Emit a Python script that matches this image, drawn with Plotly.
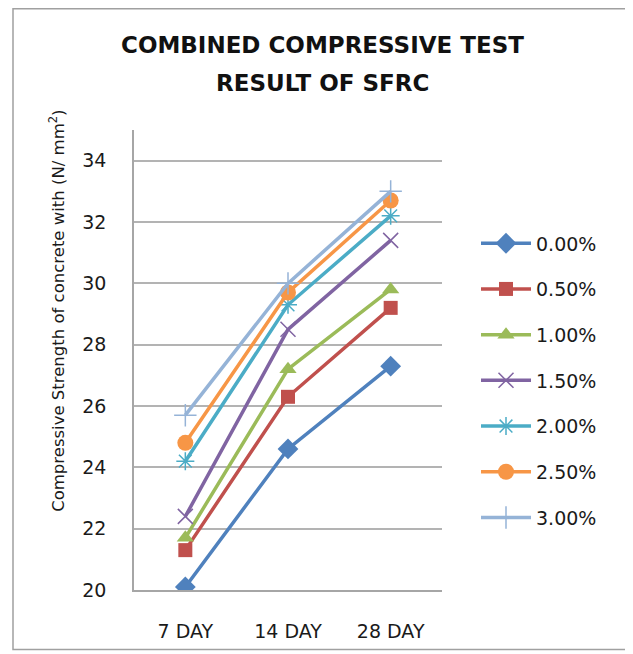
import plotly.graph_objects as go

categories = ["7 DAY", "14 DAY", "28 DAY"]
series_names = ["0.00%", "0.50%", "1.00%", "1.50%", "2.00%", "2.50%", "3.00%"]
s000 = [20.1, 24.6, 27.3]
s050 = [21.3, 26.3, 29.2]
s100 = [21.7, 27.2, 29.8]
s150 = [22.4, 28.5, 31.4]
s200 = [24.2, 29.3, 32.2]
s250 = [24.8, 29.7, 32.7]
s300 = [25.7, 30.0, 33.0]
y_ticks = [20, 22, 24, 26, 28, 30, 32, 34]

values = [s000, s050, s100, s150, s200, s250, s300]
colors = ["#4F81BD", "#C0504D", "#9BBB59", "#8064A2", "#4BACC6", "#F79646", "#95B3D7"]
symbols = ["diamond", "square", "triangle-up", "x-thin", "asterisk", "circle", "cross-thin"]
msizes = [16, 14, 15, 15, 15, 16, 16]

FONT = "DejaVu Sans"
OFF = 8  # page body margin

fig = go.Figure()
for i, (name, vals) in enumerate(zip(series_names, values)):
    thin = symbols[i] in ("x-thin", "asterisk", "cross-thin")
    fig.add_trace(go.Scatter(
        x=categories, y=vals, name=name, mode="lines+markers",
        legendgroup=name,
        line=dict(color=colors[i], width=3.5),
        marker=dict(symbol=symbols[i], size=msizes[i], color=colors[i],
                    line=dict(color=colors[i], width=1.5 if thin else 0)),
    ))

# reference pixel coordinates of the plot area
L, R, T, B = 134 - OFF, 442 - OFF, 130 - OFF, 593 - OFF
W, H = 633 - OFF, 654 - OFF
def px(x):
    return (x - OFF - L) / (R - L)
def py(y):
    return (B - (y - OFF)) / (B - T)

fig.update_layout(
    width=W, height=H,
    margin=dict(l=L, r=W - R, t=T, b=H - B),
    paper_bgcolor="white", plot_bgcolor="white",
    font=dict(family=FONT, color="#1a1a1a"),
    showlegend=True,
    legend=dict(x=px(476), y=py(225), xanchor="left", yanchor="top",
                font=dict(size=19, family=FONT), tracegroupgap=18,
                itemwidth=50, bgcolor="rgba(0,0,0,0)"),
    xaxis=dict(type="category", range=[-0.5, 2.5], showgrid=False,
               showline=True, linecolor="#A6A6A6", linewidth=1.5,
               ticks="", ticklabelstandoff=23, tickfont=dict(size=19, family=FONT),
               fixedrange=True),
    yaxis=dict(range=[20, 35], tickvals=y_ticks, showgrid=True,
               gridcolor="#B3B3B3", gridwidth=1.5, zeroline=False,
               showline=True, linecolor="#A6A6A6", linewidth=1.5,
               ticks="", ticklabelstandoff=22, tickfont=dict(size=19, family=FONT)),
    shapes=[dict(type="rect", xref="paper", yref="paper",
                 x0=px(13), x1=px(630), y0=py(653), y1=py(8),
                 line=dict(color="#A0A0A0", width=1.5), layer="below")],
    annotations=[
        dict(text="<b>COMBINED COMPRESSIVE TEST</b>", xref="paper", yref="paper",
             x=px(322), y=py(44), showarrow=False, xanchor="center", yanchor="middle",
             font=dict(size=23, family=FONT, color="#111")),
        dict(text="<b>RESULT OF SFRC</b>", xref="paper", yref="paper",
             x=px(322), y=py(83), showarrow=False, xanchor="center", yanchor="middle",
             font=dict(size=23, family=FONT, color="#111")),
        dict(text="Compressive Strength of concrete with (N/ mm<sup>2</sup>)",
             xref="paper", yref="paper", x=px(57), y=py(312), textangle=-90,
             showarrow=False, xanchor="center", yanchor="middle",
             font=dict(size=16.5, family=FONT, color="#1a1a1a")),
    ],
)

fig.write_html("out.html")
